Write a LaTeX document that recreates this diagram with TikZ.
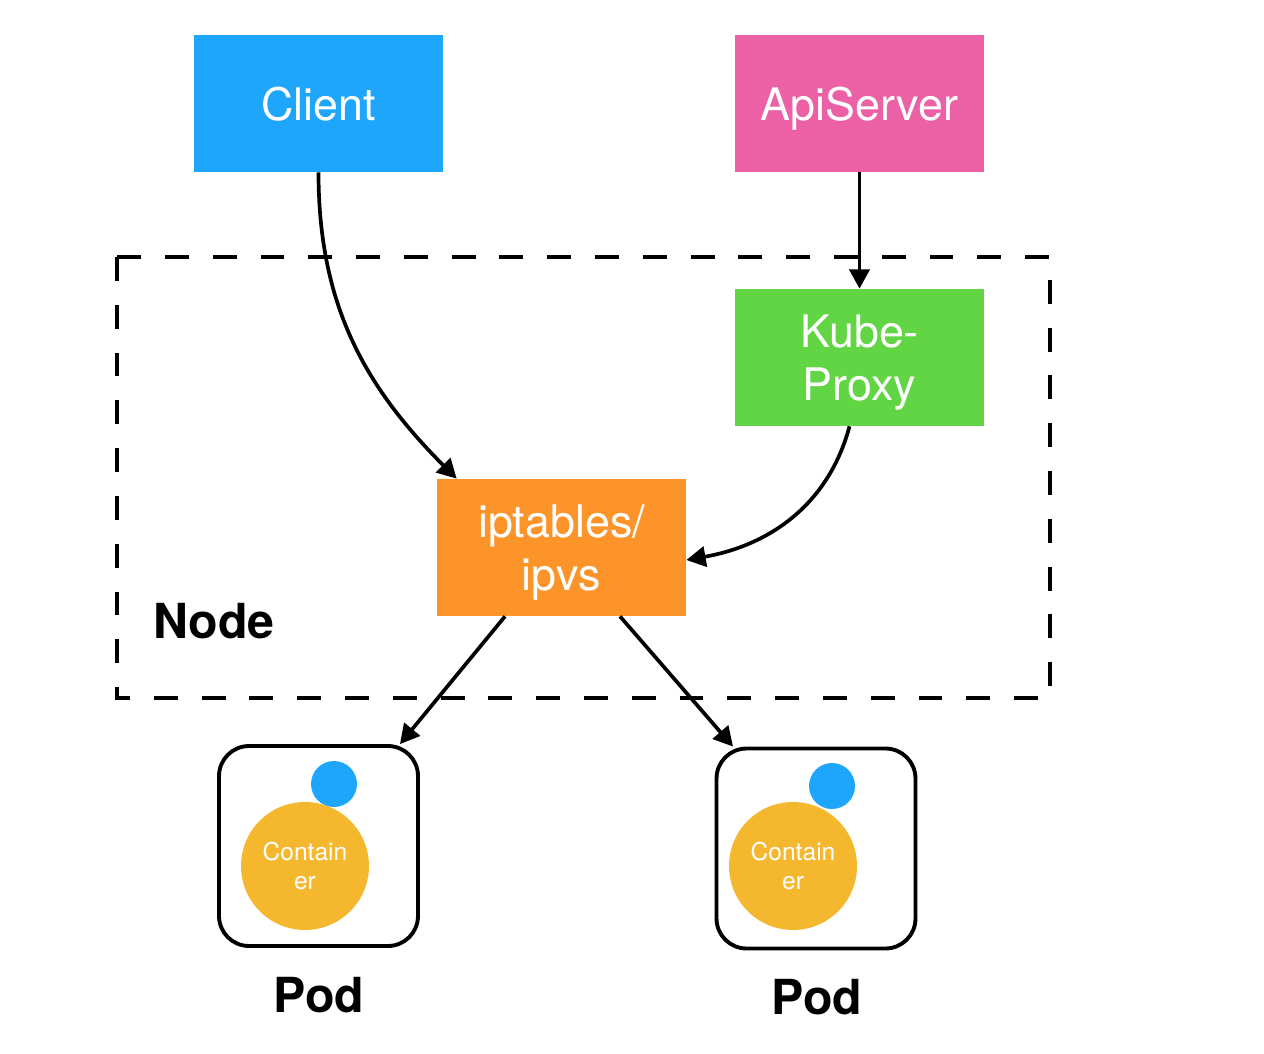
\documentclass[tikz,border=0pt]{standalone}
\usepackage{fontspec}
\setmainfont{TeX Gyre Heros}
\usetikzlibrary{arrows.meta}
\definecolor{clientblue}{HTML}{1EA5FC}
\definecolor{apipink}{HTML}{EC61A6}
\definecolor{proxygreen}{HTML}{62D544}
\definecolor{ipvsorange}{HTML}{FC942A}
\definecolor{containeryellow}{HTML}{F5B72E}

\begin{document}
\begin{tikzpicture}[x=0.02cm, y=-0.02cm,
		box/.style={minimum width=4.98cm, minimum height=2.74cm, inner sep=0pt, text depth=0pt, text=white, font=\fontsize{25.5}{30.5}\selectfont, align=center},
		pod/.style={draw, line width=2.2pt, rounded corners=0.6cm, minimum width=3.98cm, minimum height=4cm},
		conn/.style={line width=2.1pt, -{Triangle[length=11pt, width=11.5pt]}},
		biglabel/.style={font=\fontsize{27.5}{30}\selectfont\bfseries}]
		\useasboundingbox (0, 0) rectangle (1264, 1054);
		% node boundary
		\draw[line width=2.2pt, dash pattern=on 13.6pt off 13.6pt] (117, 257) rectangle (1050, 698);
		\node[biglabel] (nodelabel) at (214, 621) {Node};
		\node[box, fill=clientblue] (client) at (318.5, 103.5) {Client};
		\node[box, fill=apipink] (apiserver) at (859.5, 103.5) {ApiServer};
		\node[box, fill=proxygreen] (kubeproxy) at (859.5, 357.5) {Kube-\\Proxy};
		\node[box, fill=ipvsorange] (ipvs) at (561.5, 547.5) {iptables/\\ipvs};
		% pods
		\node[pod] (podA) at (318.5, 846) {};
		\node[pod] (podB) at (816, 848.5) {};
		\fill[clientblue] (334, 784) circle (23);
		\fill[clientblue] (832, 786) circle (23);
		\node[circle, fill=containeryellow, minimum size=2.56cm, inner sep=0pt, text=white, align=center, font=\fontsize{14}{17}\selectfont] (containerA) at (305, 866) {Contain\\er};
		\node[circle, fill=containeryellow, minimum size=2.56cm, inner sep=0pt, text=white, align=center, font=\fontsize{14}{17}\selectfont] (containerB) at (793, 866) {Contain\\er};
		\node[biglabel] (podAlabel) at (319, 995) {Pod};
		\node[biglabel] (podBlabel) at (817, 997) {Pod};
		% connections
		\draw[conn] (client.south) to[out=-90, in=135] ([xshift=0.4cm]ipvs.north west);
		\draw[conn] (apiserver) -- (kubeproxy);
		\draw[conn] ([xshift=-0.2cm]kubeproxy.south) to[out=-105, in=10] ([yshift=-0.25cm]ipvs.east);
		\draw[conn] ([xshift=-1.13cm]ipvs.south) -- ([xshift=1.63cm]podA.north);
		\draw[conn] ([xshift=1.17cm]ipvs.south) -- ([xshift=-1.66cm]podB.north);
\end{tikzpicture}
\end{document}
